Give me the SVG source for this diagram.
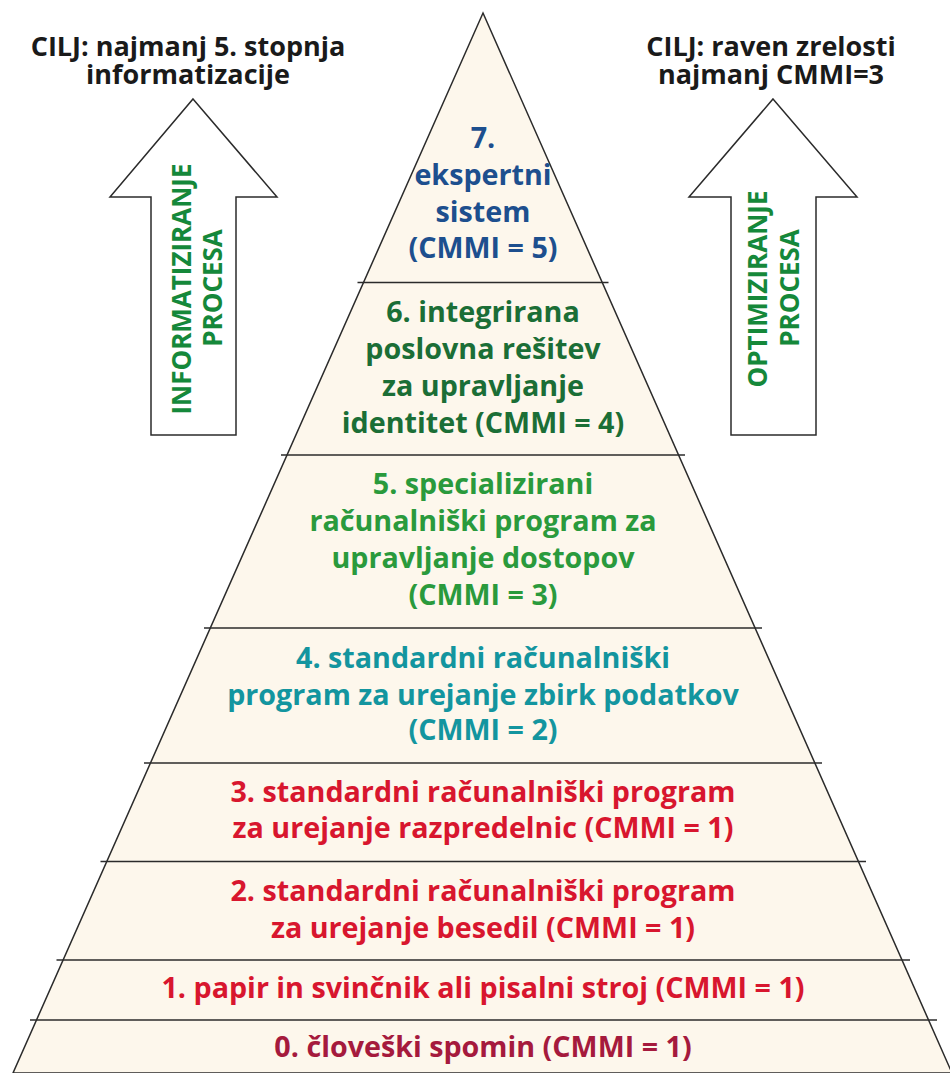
<svg xmlns="http://www.w3.org/2000/svg" width="950" height="1073" viewBox="0 0 950 1073">
  <style>
    .lvl { font-family: "Open Sans", "Noto Sans", "DejaVu Sans", sans-serif; font-weight: 700; font-size: 28.7px; text-anchor: middle; }
    .goal { font-family: "Open Sans", "Noto Sans", "DejaVu Sans", sans-serif; font-weight: 700; font-size: 27px; text-anchor: middle; fill: #1a1a1a; }
    .arrowtxt { font-family: "Open Sans", "Noto Sans", "DejaVu Sans", sans-serif; font-weight: 700; font-size: 26px; text-anchor: middle; fill: #15883a; }
    .outline { fill: #fdf7ec; stroke: #2b2b2b; stroke-width: 1.5; }
    .arrow { fill: #ffffff; stroke: #2b2b2b; stroke-width: 1.5; }
    .divider { stroke: #2b2b2b; stroke-width: 1.5; fill: none; }
    .c7 { fill: #1d4f8e; }
    .c6 { fill: #1b6e36; }
    .c5 { fill: #2a9a3c; }
    .c4 { fill: #13959f; }
    .c1 { fill: #d8162e; }
    .c0 { fill: #a51a3d; }
  </style>

  <rect width="950" height="1073" fill="#ffffff"/>

  <!-- pyramid body -->
  <g id="pyramid">
    <polygon class="outline" points="483,13 952,1073 13,1073"/>
  </g>

  <!-- level dividers -->
  <g id="connectors">
    <line class="divider" x1="357.5" y1="282.5" x2="608.5" y2="282.5"/>
    <line class="divider" x1="281" y1="455" x2="685" y2="455"/>
    <line class="divider" x1="204" y1="628" x2="762" y2="628"/>
    <line class="divider" x1="144" y1="763" x2="822" y2="763"/>
    <line class="divider" x1="100.5" y1="861.5" x2="866" y2="861.5"/>
    <line class="divider" x1="56.5" y1="960" x2="910" y2="960"/>
    <line class="divider" x1="30" y1="1020" x2="937" y2="1020"/>
  </g>

  <g id="level7">
    <text class="lvl c7" x="483" y="148">7.</text>
    <text class="lvl c7" x="483" y="185">ekspertni</text>
    <text class="lvl c7" x="483" y="222">sistem</text>
    <text class="lvl c7" x="483" y="258">(CMMI = 5)</text>
  </g>

  <g id="level6">
    <text class="lvl c6" x="483" y="322">6. integrirana</text>
    <text class="lvl c6" x="483" y="359">poslovna rešitev</text>
    <text class="lvl c6" x="483" y="396">za upravljanje</text>
    <text class="lvl c6" x="483" y="433">identitet (CMMI = 4)</text>
  </g>

  <g id="level5">
    <text class="lvl c5" x="483" y="494">5. specializirani</text>
    <text class="lvl c5" x="483" y="531">računalniški program za</text>
    <text class="lvl c5" x="483" y="568">upravljanje dostopov</text>
    <text class="lvl c5" x="483" y="605">(CMMI = 3)</text>
  </g>

  <g id="level4">
    <text class="lvl c4" x="483" y="668">4. standardni računalniški</text>
    <text class="lvl c4" x="483" y="705">program za urejanje zbirk podatkov</text>
    <text class="lvl c4" x="483" y="740">(CMMI = 2)</text>
  </g>

  <g id="level3">
    <text class="lvl c1" x="483" y="802">3. standardni računalniški program</text>
    <text class="lvl c1" x="483" y="838">za urejanje razpredelnic (CMMI = 1)</text>
  </g>

  <g id="level2">
    <text class="lvl c1" x="483" y="901">2. standardni računalniški program</text>
    <text class="lvl c1" x="483" y="938">za urejanje besedil (CMMI = 1)</text>
  </g>

  <g id="level1">
    <text class="lvl c1" x="483" y="998">1. papir in svinčnik ali pisalni stroj (CMMI = 1)</text>
  </g>

  <g id="level0">
    <text class="lvl c0" x="483" y="1057">0. človeški spomin (CMMI = 1)</text>
  </g>

  <!-- left goal and arrow -->
  <g id="goal-left">
    <text class="goal" x="188" y="56">CILJ: najmanj 5. stopnja</text>
    <text class="goal" x="188" y="84">informatizacije</text>
  </g>
  <g id="arrow-left">
    <polygon class="arrow" points="193,99 277,197 236,197 236,435 151,435 151,197 110,197"/>
    <text class="arrowtxt" transform="translate(191,289) rotate(-90)" x="0" y="0">INFORMATIZIRANJE</text>
    <text class="arrowtxt" transform="translate(222,288) rotate(-90)" x="0" y="0">PROCESA</text>
  </g>

  <!-- right goal and arrow -->
  <g id="goal-right">
    <text class="goal" x="771" y="56">CILJ: raven zrelosti</text>
    <text class="goal" x="771" y="84">najmanj CMMI=3</text>
  </g>
  <g id="arrow-right">
    <polygon class="arrow" points="773,99 857,197 816,197 816,435 731,435 731,197 689,197"/>
    <text class="arrowtxt" transform="translate(767,289) rotate(-90)" x="0" y="0">OPTIMIZIRANJE</text>
    <text class="arrowtxt" transform="translate(799,288) rotate(-90)" x="0" y="0">PROCESA</text>
  </g>
</svg>
